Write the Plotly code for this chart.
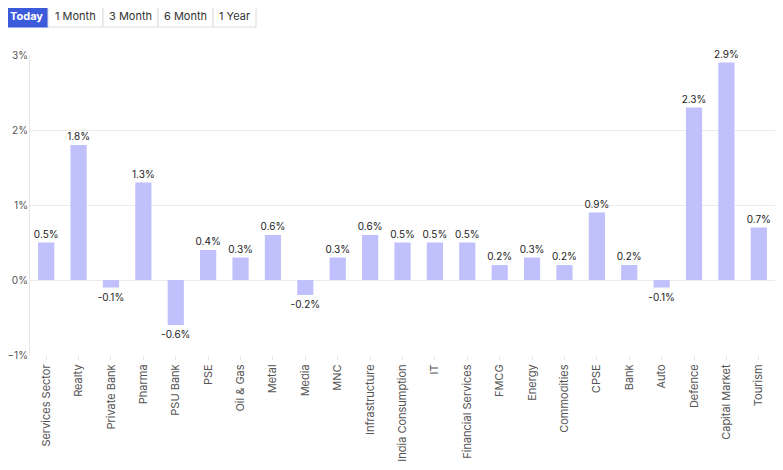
import plotly.graph_objects as go

categories = ["Services Sector", "Realty", "Private Bank", "Pharma", "PSU Bank", "PSE",
              "Oil & Gas", "Metal", "Media", "MNC", "Infrastructure", "India Consumption",
              "IT", "Financial Services", "FMCG", "Energy", "Commodities", "CPSE", "Bank",
              "Auto", "Defence", "Capital Market", "Tourism"]
values = [0.5, 1.8, -0.1, 1.3, -0.6, 0.4, 0.3, 0.6, -0.2, 0.3, 0.6, 0.5,
          0.5, 0.5, 0.2, 0.3, 0.2, 0.9, 0.2, -0.1, 2.3, 2.9, 0.7]
buttons = ["Today", "1 Month", "3 Month", "6 Month", "1 Year"]
button_px = [(5, 48), (48, 103), (103, 158), (158, 213), (213, 256)]

# page body has an 8px default margin; figure coordinates are offset by it
OFF = 8
W, H = 783 - OFF, 470 - OFF
ML, MR, MT, MB = 30 - OFF, 8, 55 - OFF, 115
pw, ph = W - ML - MR, H - MT - MB

def px2x(px):
    return (px - OFF - ML) / pw

def py2y(py):
    return (H - MB - (py - OFF)) / ph

FONT = "Inter, Roboto, sans-serif"

fig = go.Figure(go.Bar(
    x=categories, y=values,
    marker=dict(color="#c0c0fc", line=dict(width=0)),
    width=0.5,
    text=[f"{v:.1f}%" for v in values],
    textposition="outside",
    constraintext="none",
    cliponaxis=False,
    textfont=dict(family=FONT, size=10, color="#222222"),
))

shapes = []
annotations = []
for i, (b, (x0, x1)) in enumerate(zip(buttons, button_px)):
    sel = i == 0
    shapes.append(dict(type="rect", xref="paper", yref="paper",
                       x0=px2x(x0), x1=px2x(x1), y0=py2y(27), y1=py2y(5),
                       fillcolor="#3b5bdb" if sel else "#ffffff",
                       line=dict(color="#3b5bdb" if sel else "#dddddd", width=1)))
    annotations.append(dict(xref="paper", yref="paper", x=px2x((x0 + x1) / 2), y=py2y(16),
                            text=f"<b>{b}</b>" if sel else b, showarrow=False,
                            xanchor="center", yanchor="middle",
                            font=dict(family=FONT, size=11, color="#ffffff" if sel else "#333333")))

fig.update_layout(
    width=W, height=H,
    margin=dict(l=ML, r=MR, t=MT, b=MB, autoexpand=False),
    paper_bgcolor="white", plot_bgcolor="white",
    showlegend=False,
    shapes=shapes, annotations=annotations,
    xaxis=dict(tickangle=-90, tickfont=dict(family=FONT, size=11, color="#555555"),
               showgrid=False, ticks="outside", ticklen=4, tickcolor="#e6e6e6",
               showline=False, automargin=False),
    yaxis=dict(range=[-1, 3], dtick=1, ticksuffix="%", tickfont=dict(family=FONT, size=10, color="#555555"),
               gridcolor="#ebebeb", zeroline=False, showline=True, linecolor="#e6e6e6",
               ticks="", ticklabelstandoff=-1, fixedrange=True, automargin=False),
)

fig.write_html("out.html")
